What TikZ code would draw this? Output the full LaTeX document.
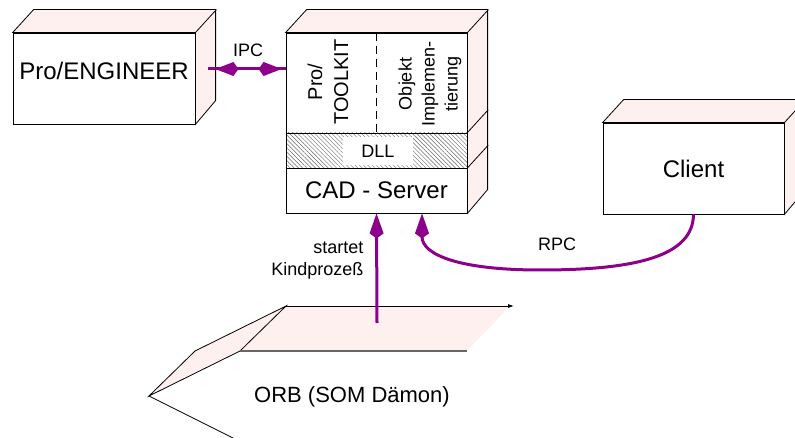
\documentclass[tikz,border=0pt]{standalone}
\usepackage{fontspec}
\setmainfont{Liberation Sans}
\usetikzlibrary{arrows.meta,patterns.meta}
\definecolor{rose}{RGB}{255,240,240}
\definecolor{lila}{RGB}{140,0,140}
\tikzset{
  front/.style={draw=black, line width=0.8pt, fill=white, inner sep=0pt},
  side/.style={draw=black, line width=0.8pt, fill=rose},
  link/.style={draw=lila, line width=3pt},
  kite/.style={-{Kite[length=25pt,width=14pt,inset=5pt]}},
  big/.style={font=\fontsize{24}{28}\selectfont},
  small/.style={font=\fontsize{18}{22}\selectfont},
}
\begin{document}
\begin{tikzpicture}[x=1pt,y=-1pt]
	\clip (0,0) rectangle (795,438);
	% Pro/ENGINEER
	\node[front, minimum width=182pt, minimum height=91pt] (pe) at (104,78.5) {};
	\filldraw[side] (pe.north west) -- ++(21,-23) -- ++(182,0) -- ++(0,91) -- (pe.south east) -- (pe.north east) -- cycle;
	\draw[line width=0.8pt] (pe.north east) -- ++(21,-23);
	\node[big] (pet) at (104,71) {Pro/ENGINEER};
	% CAD-Server: three layers
	\node[front, minimum width=181pt, minimum height=100pt] (tk) at (376.5,83) {};
	\node[front, minimum width=181pt, minimum height=35pt, pattern={Lines[angle=-45,distance=3pt,line width=0.4pt]}, pattern color=black!60] (dll) at (376.5,150.5) {};
	\node[front, big, minimum width=181pt, minimum height=45pt] (srv) at (376.5,190.5) {CAD - Server};
	\filldraw[side] (tk.north west) -- ++(21,-23) -- ++(181,0) -- ++(0,180) -- (srv.south east) -- (tk.north east) -- cycle;
	\draw[line width=0.8pt] (tk.north east) -- ++(21,-23);
	\draw[line width=0.8pt] (dll.north east) -- ++(21,-23);
	\draw[line width=0.8pt] (dll.south east) -- ++(21,-23);
	\draw[line width=0.8pt, dash pattern=on 8pt off 5pt] (tk.north) -- (tk.south);
	\node[rotate=90, align=center, font=\fontsize{20}{26}\selectfont] (tkt) at (328,82) {Pro/\\TOOLKIT};
	\node[rotate=90, align=center, font=\fontsize{18}{23}\selectfont] (obj) at (430,84) {Objekt\\Implemen-\\tierung};
	\node[fill=white, small, minimum width=70pt, minimum height=28pt, inner sep=0pt] (dllt) at (378,151) {DLL};
	% Client
	\node[front, big, minimum width=181pt, minimum height=91pt] (cl) at (693.5,168.5) {Client};
	\filldraw[side] (cl.north west) -- ++(21,-23) -- ++(181,0) -- ++(0,91) -- (cl.south east) -- (cl.north east) -- cycle;
	\draw[line width=0.8pt] (cl.north east) -- ++(21,-23);
	% ORB
	\fill[rose] (286,306) -- (510,306) -- (467,351) -- (240,351) -- cycle;
	\filldraw[fill=rose, draw=black, line width=0.8pt] (286,306) -- (195,351) -- (149,396) -- (240,351) -- cycle;
	\draw[line width=0.8pt, -{Latex[length=6pt,width=4pt]}] (286,306) -- (514,306);
	\draw[black!60, line width=2pt] (240,351) -- (467,351);
	\draw[line width=0.8pt] (149,396) -- (233,438);
	\node[font=\fontsize{22}{26}\selectfont] (orb) at (352,397) {ORB (SOM Dämon)};
	% connectors
	\coordinate (ipc) at (250,69);
	\draw[link, shorten <=13pt] (pe.east |- ipc) -- (tk.west |- ipc);
	\draw[link, {Kite[length=23pt,width=14pt,inset=5pt]}-{Kite[length=23pt,width=14pt,inset=5pt]}, shorten <=20pt, shorten >=4pt] (pe.east |- ipc) -- (tk.west |- ipc);
	\node[small] (ipct) at (248,50) {IPC};
	\coordinate (plug) at (377,323);
	\draw[link, kite] (plug) -- (srv.south);
	\node[small, align=right, anchor=east] (start) at (367,261) {startet\\Kindprozeß};
	\coordinate (rpcin) at ([xshift=45.5pt]srv.south);
	\draw[link, kite] (cl.south) .. controls (693,255) and (640,270) .. (540,270) .. controls (460,270) and (422,255) .. (rpcin);
	\node[small] (rpct) at (557,244) {RPC};
\end{tikzpicture}
\end{document}
